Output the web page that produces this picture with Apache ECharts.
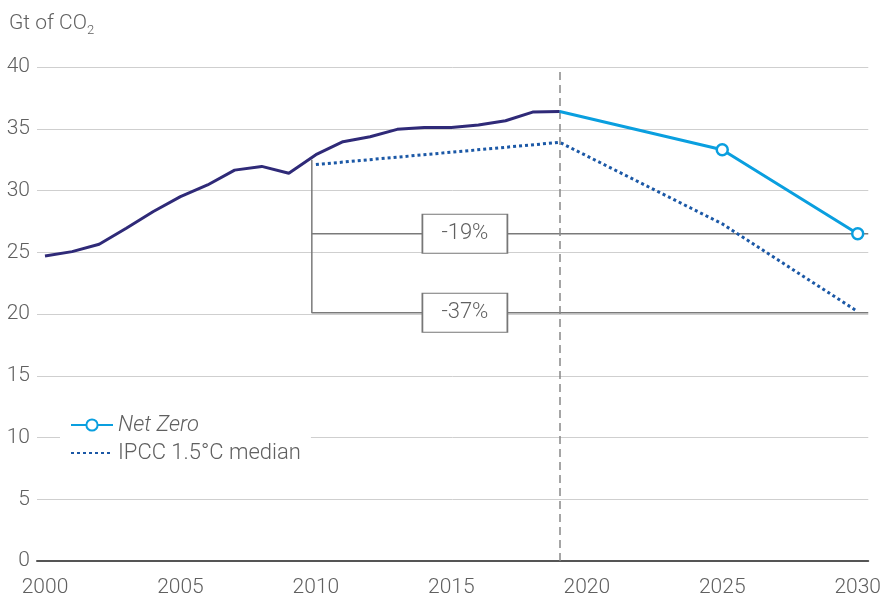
<!DOCTYPE html>
<html>
<head>
<meta charset="utf-8">
<script src="https://cdn.jsdelivr.net/npm/echarts@6/dist/echarts.min.js"></script>
<style>html,body{margin:0;padding:0;background:#fff}#c{width:884px;height:599px}</style>
</head>
<body>
<div id="c"></div>
<script>
// ---- data ----
const histYears = [2000,2001,2002,2003,2004,2005,2006,2007,2008,2009,2010,2011,2012,2013,2014,2015,2016,2017,2018,2019];
const histValues = [24.7,25.05,25.65,26.95,28.3,29.5,30.45,31.65,31.95,31.4,32.9,33.95,34.35,34.95,35.1,35.1,35.3,35.65,36.35,36.4];
const netZeroYears = [2019,2025,2030];
const netZeroValues = [36.4,33.3,26.5];
const ipccYears = [2010,2019,2025,2030];
const ipccValues = [32.1,33.9,27.3,20.2];
const xTicks = [2000,2005,2010,2015,2020,2025,2030];
const yTicks = [0,5,10,15,20,25,30,35,40];
const dividerYear = 2019;
const bracketYear = 2009.85;
const bracketTop = 32.5;
const bracketLabels = ['-19%','-37%'];
const bracketLevels = [26.5,20.1];
const labelYear = 2015.5;

const X_MIN = 1999.705, X_MAX = 2030.39;
const FONT = 'Roboto';
const GREY = '#606060';
const FS = 21;

const zip = (a,b) => a.map((v,i)=>[v,b[i]]);

const chart = echarts.init(document.getElementById('c'), null, {renderer:'canvas'});
chart.setOption({
  animation:false,
  backgroundColor:'#fff',
  title:{
    text:'Gt of CO{sub|2}',
    left:4, top:5,
    textStyle:{fontFamily:FONT,fontSize:FS,fontWeight:300,color:GREY,
      rich:{sub:{fontFamily:FONT,fontSize:13,fontWeight:300,color:GREY,verticalAlign:'bottom',padding:[14,0,0,0]}}}
  },
  legend:{
    data:[{name:'Net Zero',textStyle:{fontStyle:'italic'}},{name:'IPCC 1.5°C median',itemStyle:{opacity:0}}],
    orient:'vertical', left:60, top:410,
    backgroundColor:'#fff',
    padding:[4,10,4,10],
    itemGap:6, itemWidth:42, itemHeight:14,
    textStyle:{fontFamily:FONT,fontSize:22,fontWeight:300,color:GREY}
  },
  grid:{left:37,right:14,top:67,bottom:38,containLabel:false},
  xAxis:{
    type:'value', min:X_MIN, max:X_MAX,
    axisLine:{show:true,lineStyle:{color:'#555',width:2}},
    axisTick:{show:false},
    splitLine:{show:false},
    axisLabel:{customValues:xTicks,fontFamily:FONT,fontSize:FS,fontWeight:300,color:GREY,margin:16,formatter:v=>String(Math.round(v))}
  },
  yAxis:{
    type:'value', min:0, max:40, interval:5,
    axisLine:{show:false}, axisTick:{show:false},
    splitLine:{lineStyle:{color:'#cfcfcf',width:1}},
    axisLabel:{fontFamily:FONT,fontSize:FS,fontWeight:300,color:GREY,margin:7}
  },
  series:[
    {
      name:'Historical', type:'line', data:zip(histYears,histValues),
      showSymbol:false, symbol:'none',
      lineStyle:{color:'#2f2a78',width:3}, itemStyle:{color:'#2f2a78'},
      z:5,
      markLine:{silent:true,symbol:'none',label:{show:false},
        lineStyle:{color:'#888',width:1.5,type:[8,5]},
        data:[{xAxis:dividerYear}]}
    },
    {
      name:'Bracket', type:'line', silent:true, symbol:'none',
      data:[[bracketYear,bracketTop],[bracketYear,bracketLevels[1]],[X_MAX,bracketLevels[1]]],
      lineStyle:{color:'#7a7a7a',width:1.5}, z:2
    },
    {
      name:'Bracket2', type:'line', silent:true, symbol:'none',
      data:[[bracketYear,bracketLevels[0]],[X_MAX,bracketLevels[0]]],
      lineStyle:{color:'#7a7a7a',width:1.5}, z:2
    },
    {
      name:'IPCC 1.5°C median', type:'line', data:zip(ipccYears,ipccValues),
      showSymbol:false, symbol:'none',
      lineStyle:{color:'#1b58a6',width:3,type:[3,3]}, itemStyle:{color:'#1b58a6'}, z:4
    },
    {
      name:'Net Zero', type:'line',
      data:netZeroYears.map((y,i)=>({value:[y,netZeroValues[i]],symbol:i===0?'none':'circle'})),
      symbol:'circle', symbolSize:11, showSymbol:true,
      lineStyle:{color:'#0a9fdf',width:3},
      itemStyle:{color:'#fff',borderColor:'#0a9fdf',borderWidth:2.5}, z:6
    },
    {
      name:'Labels', type:'scatter', silent:true,
      data:bracketLabels.map((t,i)=>({value:[labelYear,bracketLevels[i]],label:{formatter:t}})),
      symbol:'rect', symbolSize:[85,39],
      itemStyle:{color:'#fff',borderColor:'#777',borderWidth:1.2,opacity:1},
      label:{show:true,position:'inside',fontFamily:FONT,fontSize:22,fontWeight:300,color:GREY},
      z:8
    }
  ]
});
</script>
</body>
</html>
